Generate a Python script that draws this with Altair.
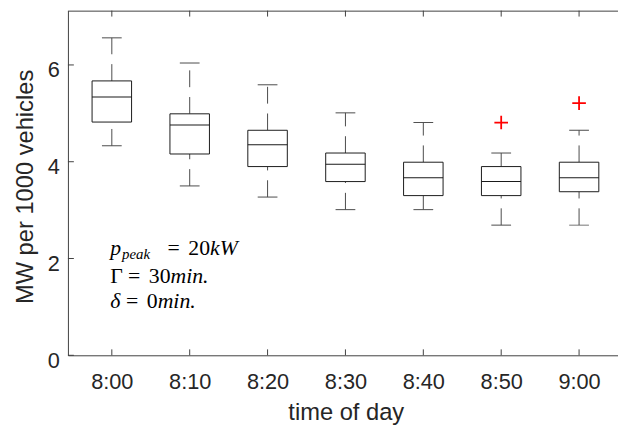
import altair as alt
import pandas as pd

# ---- data ----
times = ["8:00", "8:10", "8:20", "8:30", "8:40", "8:50", "9:00"]
upper_whisker = [6.56, 6.04, 5.59, 5.01, 4.81, 4.18, 4.65]
q3 = [5.67, 4.99, 4.65, 4.18, 3.99, 3.90, 3.99]
median = [5.34, 4.76, 4.35, 3.95, 3.67, 3.59, 3.67]
q1 = [4.82, 4.16, 3.90, 3.59, 3.30, 3.30, 3.38]
lower_whisker = [4.33, 3.50, 3.27, 3.01, 3.01, 2.69, 2.69]
outlier_times = ["8:50", "9:00"]
outlier_values = [4.81, 5.21]
y_ticks = [0, 2, 4, 6]

x_title = "time of day"
y_title = "MW per 1000 vehicles"

# annotation: (line y in data units, [(text, dx px, style, size, dy)])
ann_x = 0.98
ann_lines = [
    (2.067, [("p", 0, "italic", 22, 0), ("peak", 12, "italic", 15, 4),
             ("=", 58, "normal", 22, 0), ("20", 79, "normal", 22, 0),
             ("kW", 101, "italic", 22, 0)]),
    (1.504, [("Γ", 0, "normal", 22, 0), ("=", 18, "normal", 22, 0),
             ("30", 39, "normal", 22, 0), ("min.", 61, "italic", 22, 0)]),
    (0.98, [("δ", 0, "italic", 22, 0), ("=", 16, "normal", 22, 0),
            ("0", 37, "normal", 22, 0), ("min.", 48, "italic", 22, 0)]),
]

# ---- layout ----
W, H = 557, 349
STEP = 80.3
pos = list(range(1, len(times) + 1))

df = pd.DataFrame(dict(pos=pos, time=times, upper=upper_whisker, q3=q3,
                       median=median, q1=q1, lower=lower_whisker))
out = pd.DataFrame(dict(pos=[times.index(t) + 1 for t in outlier_times],
                        value=outlier_values))
xt = pd.DataFrame(dict(pos=pos))
yt = pd.DataFrame(dict(v=y_ticks))
one = pd.DataFrame(dict(a=[0]))

label_expr = "[" + ",".join(f"'{t}'" for t in times) + "][datum.value - 1]"

xscale = alt.Scale(domain=[0.5, 0.5 + W / STEP], nice=False, zero=False)
yscale = alt.Scale(domain=[0, 7.122], nice=False, zero=False)

TXT = "#262626"
AX = "#404040"
BOX = "#1a1a1a"
WH = "#4a4a4a"
SANS = "Liberation Sans"
SERIF = "Liberation Serif"

x_axis = alt.Axis(values=pos, labelExpr=label_expr, title=x_title, grid=False,
                  ticks=False, tickSize=0, labelPadding=34,
                  labelBaseline="alphabetic", labelFont=SANS, labelFontSize=22,
                  labelColor=TXT, labelFlush=False, labelOverlap=False,
                  titleFont=SANS, titleFontSize=24, titleFontWeight="normal",
                  titleColor=TXT, titleX=281.3, titleY=65, titleAlign="center",
                  titleBaseline="alphabetic", domainColor=AX, domainWidth=1)
y_axis = alt.Axis(values=y_ticks, title=y_title, grid=False, ticks=False,
                  tickSize=0, labelPadding=8.7, labelBaseline="alphabetic",
                  labelOffset=12, labelFont=SANS, labelFontSize=22,
                  labelColor=TXT, labelFlush=False, labelOverlap=False,
                  titleFont=SANS, titleFontSize=24, titleFontWeight="normal",
                  titleColor=TXT, titleAngle=270, titleX=-35.7, titleY=178,
                  titleAlign="center", titleBaseline="alphabetic",
                  domainColor=AX, domainWidth=1)

base = alt.Chart(df)
X = alt.X("pos:Q", scale=xscale, axis=x_axis)

whisk_up = base.mark_rule(color=WH, strokeWidth=1, strokeDash=[17, 10]).encode(
    x=X, y=alt.Y("q3:Q", scale=yscale, axis=y_axis), y2="upper:Q")
whisk_lo = base.mark_rule(color=WH, strokeWidth=1, strokeDash=[17, 10]).encode(
    x="pos:Q", y="lower:Q", y2="q1:Q")
cap_up = base.mark_tick(orient="horizontal", size=20, thickness=1, color=WH,
                        opacity=1).encode(x="pos:Q", y="upper:Q")
cap_lo = base.mark_tick(orient="horizontal", size=20, thickness=1, color=WH,
                        opacity=1).encode(x="pos:Q", y="lower:Q")
box = base.mark_bar(size=40, fill="white", stroke=BOX, strokeWidth=1).encode(
    x="pos:Q", y="q1:Q", y2="q3:Q")
med = base.mark_tick(orient="horizontal", size=40, thickness=1, color=BOX,
                     opacity=1).encode(x="pos:Q", y="median:Q")
outl = alt.Chart(out).mark_point(shape="M-1,0L1,0M0,-1L0,1", size=190,
                                 filled=False, color="#ff0000", strokeWidth=1.8,
                                 opacity=1).encode(x="pos:Q", y="value:Q")

tick_b = alt.Chart(xt).mark_rule(color=AX, strokeWidth=1).encode(
    x="pos:Q", y=alt.value(H), y2=alt.value(H - 6))
tick_t = alt.Chart(xt).mark_rule(color=AX, strokeWidth=1).encode(
    x="pos:Q", y=alt.value(0), y2=alt.value(6))
tick_l = alt.Chart(yt).mark_rule(color=AX, strokeWidth=1).encode(
    y="v:Q", x=alt.value(0), x2=alt.value(6))
top_line = alt.Chart(one).mark_rule(color=AX, strokeWidth=1).encode(
    x=alt.value(0), x2=alt.value(W), y=alt.value(0.5))

texts = []
for y_line, segs in ann_lines:
    for txt, dx, style, size, dy in segs:
        texts.append(
            alt.Chart(one).mark_text(align="left", baseline="alphabetic",
                                     font=SERIF, fontStyle=style,
                                     fontSize=size, dx=dx, dy=dy,
                                     color="#000000").encode(
                x=alt.datum(ann_x), y=alt.datum(y_line),
                text=alt.value(txt)))

chart = alt.layer(whisk_up, whisk_lo, cap_up, cap_lo, box, med, outl,
                  tick_b, tick_t, tick_l, top_line, *texts).properties(
    width=W, height=H,
    autosize=alt.AutoSizeParams(type="none"),
    padding={"left": 60.7, "top": 0, "right": 0, "bottom": 76},
    background="white",
).configure_view(stroke=None)

chart.save("out.html", embed_options={"renderer": "svg", "actions": False})
